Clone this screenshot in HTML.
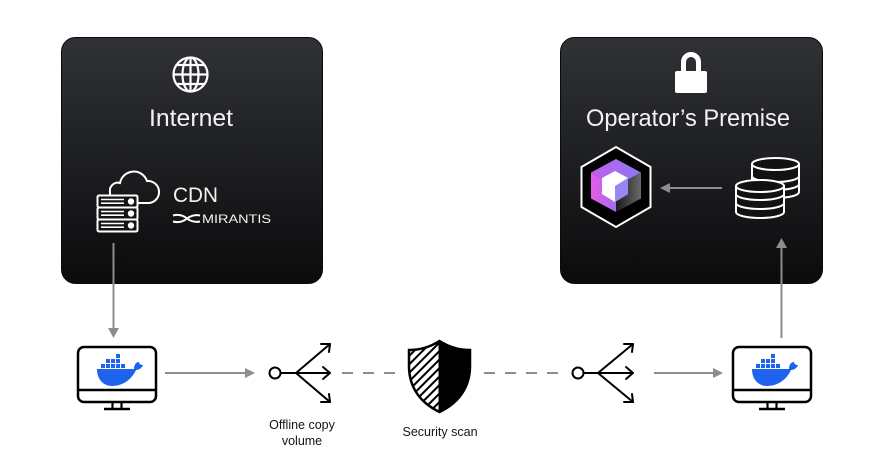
<!DOCTYPE html>
<html>
<head>
<meta charset="utf-8">
<style>
  html, body { margin: 0; padding: 0; background: #ffffff; }
  body { width: 884px; height: 475px; overflow: hidden; }
  svg { display: block; }
  text { font-family: "Liberation Sans", sans-serif; }
</style>
</head>
<body>
<svg width="884" height="475" viewBox="0 0 884 475" xmlns="http://www.w3.org/2000/svg">
  <defs>
    <linearGradient id="boxg" x1="0" y1="0" x2="0" y2="1">
      <stop offset="0" stop-color="#303236"/>
      <stop offset="1" stop-color="#0b0b0c"/>
    </linearGradient>
    <linearGradient id="topf" x1="0" y1="0" x2="1" y2="0">
      <stop offset="0" stop-color="#c05ff0"/>
      <stop offset="1" stop-color="#8c78f2"/>
    </linearGradient>
    <linearGradient id="leftf" x1="0" y1="0" x2="1" y2="0">
      <stop offset="0" stop-color="#e45ce6"/>
      <stop offset="1" stop-color="#a36cf0"/>
    </linearGradient>
    <linearGradient id="rightf" x1="0" y1="0" x2="1" y2="0">
      <stop offset="0" stop-color="#1a1a1c"/>
      <stop offset="1" stop-color="#6a6a6e"/>
    </linearGradient>
    <pattern id="hatch" patternUnits="userSpaceOnUse" width="6" height="6" patternTransform="rotate(45)">
      <rect width="6" height="6" fill="#ffffff"/>
      <rect x="0" y="0" width="2" height="6" fill="#000000"/>
    </pattern>
    <clipPath id="shieldLeft">
      <rect x="400" y="335" width="39.5" height="85"/>
    </clipPath>
    <clipPath id="shieldRight">
      <rect x="439.5" y="335" width="40" height="85"/>
    </clipPath>
  </defs>

  <!-- Left box: Internet -->
  <rect x="61.5" y="37.5" width="261" height="246" rx="14" ry="14" fill="url(#boxg)" stroke="#0a0a0a" stroke-width="1"/>
  <!-- Globe -->
  <g fill="none" stroke="#ffffff" stroke-width="2.2">
    <circle cx="190.5" cy="74.5" r="17"/>
    <ellipse cx="190.5" cy="74.5" rx="8" ry="17"/>
    <line x1="190.5" y1="57.5" x2="190.5" y2="91.5"/>
    <line x1="173.5" y1="74.5" x2="207.5" y2="74.5"/>
    <line x1="177" y1="65" x2="204" y2="65"/>
    <line x1="177" y1="84" x2="204" y2="84"/>
  </g>
  <text x="191" y="126" font-size="24" fill="#f2f2f2" text-anchor="middle" textLength="84" lengthAdjust="spacingAndGlyphs">Internet</text>

  <!-- Cloud + server -->
  <path d="M110,196 L110,192 A8,8 0 0 1 120,183 A14,14 0 0 1 147,181 A11,11 0 0 1 149,203 L138,203" fill="none" stroke="#ffffff" stroke-width="2"/>
  <g stroke="#ffffff" stroke-width="2" fill="#141415">
    <rect x="97.5" y="195.5" width="40" height="12" rx="1.5"/>
    <rect x="97.5" y="207.5" width="40" height="12" rx="1.5"/>
    <rect x="97.5" y="219.5" width="40" height="12" rx="1.5"/>
  </g>
  <g stroke="#ffffff" stroke-width="1.6">
    <line x1="101" y1="199.5" x2="124" y2="199.5"/>
    <line x1="101" y1="203.2" x2="124" y2="203.2"/>
    <line x1="101" y1="211.5" x2="124" y2="211.5"/>
    <line x1="101" y1="215.2" x2="124" y2="215.2"/>
    <line x1="101" y1="223.5" x2="124" y2="223.5"/>
    <line x1="101" y1="227.2" x2="124" y2="227.2"/>
  </g>
  <g fill="#ffffff">
    <circle cx="131" cy="201.5" r="3.2"/>
    <circle cx="131" cy="213.5" r="3.2"/>
    <circle cx="131" cy="225.5" r="3.2"/>
  </g>
  <text x="173" y="202" font-size="21" fill="#f2f2f2" textLength="45" lengthAdjust="spacingAndGlyphs">CDN</text>
  <!-- Mirantis mark -->
  <path d="M173,215.5 C179,214 184,216 187,218.5 C190,221 195,222.5 200,221.5 M173,221.5 C179,223 184,221 187,218.5 C190,216 195,214.5 200,215.5" fill="none" stroke="#ffffff" stroke-width="2"/>
  <text x="202" y="223" font-size="11.5" fill="#f2f2f2" textLength="69" lengthAdjust="spacingAndGlyphs">MIRANTIS</text>

  <!-- Right box: Operator's Premise -->
  <rect x="560.5" y="37.5" width="262" height="246" rx="14" ry="14" fill="url(#boxg)" stroke="#0a0a0a" stroke-width="1"/>
  <!-- Lock -->
  <path d="M683.5,72 L683.5,62 A7.5,7.5 0 0 1 698.5,62 L698.5,72" fill="none" stroke="#ffffff" stroke-width="5"/>
  <rect x="675" y="71" width="32" height="22" rx="2" fill="#ffffff"/>
  <text x="688" y="126" font-size="24" fill="#f2f2f2" text-anchor="middle" textLength="204" lengthAdjust="spacingAndGlyphs">Operator’s Premise</text>

  <!-- Hexagon cube -->
  <polygon points="616,147 650.5,167 650.5,207 616,227 581.5,207 581.5,167" fill="#000000" stroke="#ffffff" stroke-width="2"/>
  <polygon points="616,159 641,172.5 616,186 591,172.5" fill="url(#topf)"/>
  <polygon points="591,172.5 616,186 616,212 591,198.5" fill="url(#leftf)"/>
  <polygon points="616,186 641,172.5 641,198.5 616,212" fill="url(#rightf)"/>
  <polygon points="602,178 615,171 628,178 628,194 615,202 602,194" fill="#ffffff"/>
  <polygon points="615,186 628,178 628,194 615,202" fill="#9a86f2"/>

  <!-- Right box arrow -->
  <line x1="722" y1="188" x2="668" y2="188" stroke="#8c8d91" stroke-width="2"/>
  <polygon points="670,183 670,193 660,188" fill="#8c8d91"/>

  <!-- Databases -->
  <g stroke="#ffffff" stroke-width="2" fill="#121213">
    <path d="M752,164 L752,192 A23.5,6 0 0 0 799,192 L799,164"/>
    <ellipse cx="775.5" cy="164" rx="23.5" ry="6"/>
    <path d="M752,176 A23.5,6 0 0 0 799,176 M752,184 A23.5,6 0 0 0 799,184" fill="none"/>
    <path d="M736,186 L736,212 A24,6 0 0 0 784,212 L784,186"/>
    <ellipse cx="760" cy="186" rx="24" ry="6"/>
    <path d="M736,194 A24,6 0 0 0 784,194 M736,203 A24,6 0 0 0 784,203" fill="none"/>
  </g>

  <!-- Vertical arrows -->
  <line x1="113.5" y1="243" x2="113.5" y2="330" stroke="#8c8d91" stroke-width="2"/>
  <polygon points="108,328 119,328 113.5,338" fill="#8c8d91"/>
  <line x1="781.5" y1="338" x2="781.5" y2="246" stroke="#8c8d91" stroke-width="2"/>
  <polygon points="776,248 787,248 781.5,238" fill="#8c8d91"/>

  <!-- Left monitor -->
  <g id="mon">
    <rect x="78" y="347" width="78" height="55" rx="6" fill="#ffffff" stroke="#000000" stroke-width="2.5"/>
    <line x1="78" y1="390" x2="156" y2="390" stroke="#000000" stroke-width="2.5"/>
    <line x1="112.5" y1="402" x2="112.5" y2="409" stroke="#000000" stroke-width="2.2"/>
    <line x1="121.5" y1="402" x2="121.5" y2="409" stroke="#000000" stroke-width="2.2"/>
    <line x1="104" y1="409" x2="130" y2="409" stroke="#000000" stroke-width="2.5"/>
    <g fill="#1d63ed">
      <path d="M97,369 L134,369 C134,365 136,362 139,362 C139,364 141,365 143,365 C142,368 139,370 136,370 C132,379 123,386 112,386 C103,386 97,379 97,369 Z"/>
      <rect x="101" y="364" width="4" height="4"/>
      <rect x="106" y="364" width="4" height="4"/>
      <rect x="111" y="364" width="4" height="4"/>
      <rect x="116" y="364" width="4" height="4"/>
      <rect x="121" y="364" width="4" height="4"/>
      <rect x="106" y="359" width="4" height="4"/>
      <rect x="111" y="359" width="4" height="4"/>
      <rect x="116" y="359" width="4" height="4"/>
      <rect x="116" y="354" width="4" height="4"/>
    </g>
  </g>
  <!-- Right monitor -->
  <g transform="translate(655,0)">
    <rect x="78" y="347" width="78" height="55" rx="6" fill="#ffffff" stroke="#000000" stroke-width="2.5"/>
    <line x1="78" y1="390" x2="156" y2="390" stroke="#000000" stroke-width="2.5"/>
    <line x1="112.5" y1="402" x2="112.5" y2="409" stroke="#000000" stroke-width="2.2"/>
    <line x1="121.5" y1="402" x2="121.5" y2="409" stroke="#000000" stroke-width="2.2"/>
    <line x1="104" y1="409" x2="130" y2="409" stroke="#000000" stroke-width="2.5"/>
    <g fill="#1d63ed">
      <path d="M97,369 L134,369 C134,365 136,362 139,362 C139,364 141,365 143,365 C142,368 139,370 136,370 C132,379 123,386 112,386 C103,386 97,379 97,369 Z"/>
      <rect x="101" y="364" width="4" height="4"/>
      <rect x="106" y="364" width="4" height="4"/>
      <rect x="111" y="364" width="4" height="4"/>
      <rect x="116" y="364" width="4" height="4"/>
      <rect x="121" y="364" width="4" height="4"/>
      <rect x="106" y="359" width="4" height="4"/>
      <rect x="111" y="359" width="4" height="4"/>
      <rect x="116" y="359" width="4" height="4"/>
      <rect x="116" y="354" width="4" height="4"/>
    </g>
  </g>

  <!-- Horizontal solid arrows -->
  <line x1="165" y1="373" x2="247" y2="373" stroke="#8c8d91" stroke-width="2"/>
  <polygon points="245,368 245,378 255,373" fill="#8c8d91"/>
  <line x1="654" y1="373" x2="715" y2="373" stroke="#8c8d91" stroke-width="2"/>
  <polygon points="713,368 713,378 723,373" fill="#8c8d91"/>

  <!-- Dashed lines -->
  <line x1="342" y1="373" x2="395" y2="373" stroke="#8c8d91" stroke-width="2" stroke-dasharray="11 10"/>
  <line x1="484" y1="373" x2="558" y2="373" stroke="#8c8d91" stroke-width="2" stroke-dasharray="11 10"/>

  <!-- Offline copy icon 1 -->
  <g fill="none" stroke="#000000" stroke-width="2" stroke-linecap="round" stroke-linejoin="round">
    <circle cx="275" cy="373" r="5.5" fill="#ffffff"/>
    <line x1="280.5" y1="373" x2="296" y2="373"/>
    <line x1="296" y1="373" x2="330" y2="344"/>
    <line x1="296" y1="373" x2="330" y2="373"/>
    <line x1="296" y1="373" x2="330" y2="402"/>
    <polyline points="323,367 330,373 323,379"/>
    <polyline points="321,344 330,344 329,352"/>
    <polyline points="321,402 330,402 329,394"/>
  </g>
  <!-- Offline copy icon 2 -->
  <g fill="none" stroke="#000000" stroke-width="2" stroke-linecap="round" stroke-linejoin="round">
    <circle cx="578" cy="373" r="5.5" fill="#ffffff"/>
    <line x1="583.5" y1="373" x2="598" y2="373"/>
    <line x1="598" y1="373" x2="633" y2="344"/>
    <line x1="598" y1="373" x2="633" y2="373"/>
    <line x1="598" y1="373" x2="633" y2="402"/>
    <polyline points="626,367 633,373 626,379"/>
    <polyline points="624,344 633,344 632,352"/>
    <polyline points="624,402 633,402 632,394"/>
  </g>

  <!-- Shield -->
  <path id="sh" d="M439.5,341 C430,347 420,350 409,350 L409,366 C409,388 421,403 439.5,412 C458,403 470,388 470,366 L470,350 C459,350 449,347 439.5,341 Z" fill="url(#hatch)" clip-path="url(#shieldLeft)" stroke="#000000" stroke-width="2.5"/>
  <path d="M439.5,341 C430,347 420,350 409,350 L409,366 C409,388 421,403 439.5,412 C458,403 470,388 470,366 L470,350 C459,350 449,347 439.5,341 Z" fill="#000000" stroke="#000000" stroke-width="2.5" clip-path="url(#shieldRight)"/>
  <line x1="439.5" y1="341" x2="439.5" y2="412" stroke="#000000" stroke-width="2"/>

  <!-- Labels -->
  <text x="302" y="429" font-size="12.5" fill="#151515" text-anchor="middle">Offline copy</text>
  <text x="302" y="445" font-size="12.5" fill="#151515" text-anchor="middle">volume</text>
  <text x="440" y="436" font-size="12.5" fill="#151515" text-anchor="middle">Security scan</text>
</svg>
</body>
</html>
